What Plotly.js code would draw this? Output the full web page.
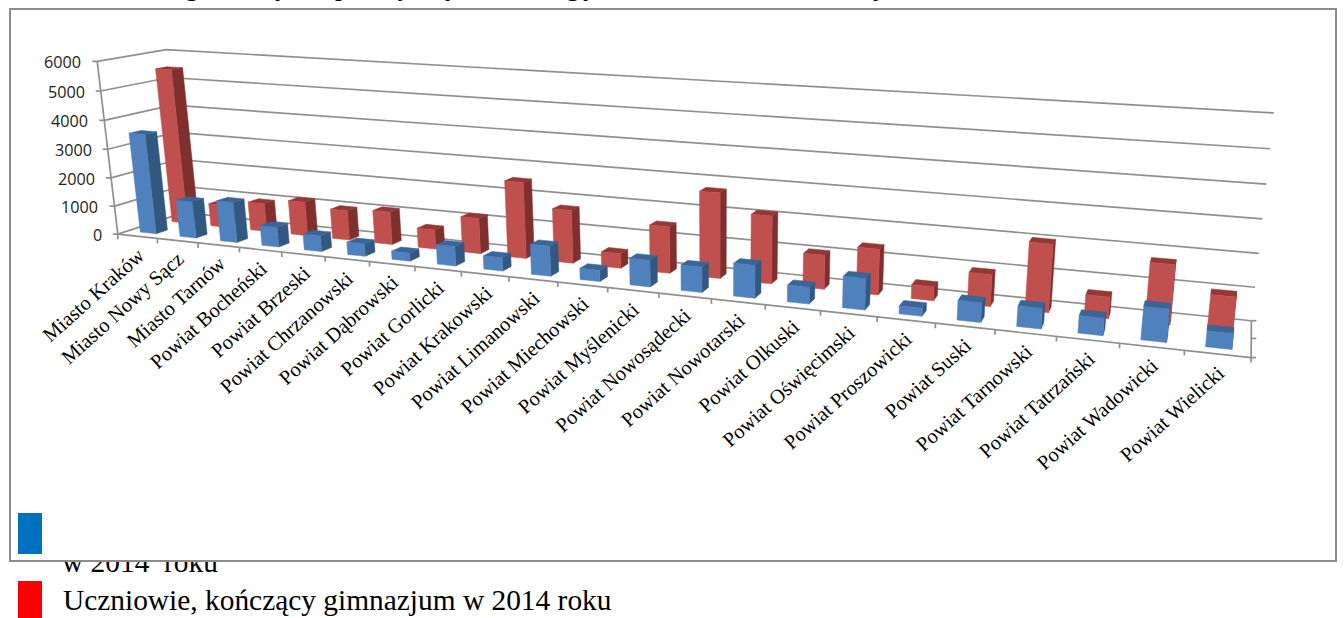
<!DOCTYPE html>
<html><head><meta charset="utf-8">
<script src="https://cdn.plot.ly/plotly-3.0.0.min.js"></script>
<style>html,body{margin:0;padding:0;background:#fff;overflow:hidden}#c{width:1344px;height:618px}</style>
</head><body><div id="c"></div>
<script>
const categories=["Miasto Kraków","Miasto Nowy Sącz","Miasto Tarnów","Powiat Bocheński","Powiat Brzeski","Powiat Chrzanowski","Powiat Dąbrowski","Powiat Gorlicki","Powiat Krakowski","Powiat Limanowski","Powiat Miechowski","Powiat Myślenicki","Powiat Nowosądecki","Powiat Nowotarski","Powiat Olkuski","Powiat Oświęcimski","Powiat Proszowicki","Powiat Suski","Powiat Tarnowski","Powiat Tatrzański","Powiat Wadowicki","Powiat Wielicki"];
const blueValues=[3500,1280,1400,680,540,420,270,650,440,980,360,850,800,1020,520,960,240,590,610,510,960,450];
const redValues=[5500,800,1000,1190,1030,1130,660,1200,2550,1760,480,1520,2750,2160,1080,1430,430,980,2060,650,1780,1020];
const valueTicks=[0,1000,2000,3000,4000,5000,6000];
const legendRed="Uczniowie, kończący gimnazjum w 2014 roku";
const legendBlueTail="w 2014  roku";
const titleFragments=["g","y","p","j","y","g","y","y"];
const titleFragmentX=[192,282,342,402,452,573,590,880];

// camera calibration: [category position, depth, value] -> page pixel
const calibration=[
 [0,0,0,118,234],[22,0,0,1251,358],[22,.5,0,1252,338],[22,1,0,1251,320],[0,1,0,184,213.5],
 [0,1,6000,166,49],[0,0,6000,98,62],[0,0,5000,101,91],[0,0,4000,104,120],[0,0,3000,107,149],[0,0,2000,111,178],[0,0,1000,114,206],
 [22,1,1000,1255,287],[22,1,2000,1259,254],[22,1,3000,1262,219],[22,1,4000,1266,184],[22,1,5000,1270,149],[22,1,6000,1274,113],
 [5,0,0,326,256.8],[11,0,0,607,287.5],[16,0,0,877,317]];
function solve(A,b){const n=b.length;const M=A.map((r,i)=>r.concat([b[i]]));
 for(let i=0;i<n;i++){let p=i;for(let r=i+1;r<n;r++)if(Math.abs(M[r][i])>Math.abs(M[p][i]))p=r;[M[i],M[p]]=[M[p],M[i]];
  for(let r=i+1;r<n;r++){const f=M[r][i]/M[i][i];for(let c=i;c<=n;c++)M[r][c]-=f*M[i][c];}}
 const x=Array(n).fill(0);for(let i=n-1;i>=0;i--){let s=M[i][n];for(let c=i+1;c<n;c++)s-=M[i][c]*x[c];x[i]=s/M[i][i];}return x;}
const rows=[],rhs=[];
calibration.forEach(([t,d,h,X,Y])=>{const T=t/22,H=h/6000;
 rows.push([1,T,d,H,0,0,0,0,-X*T,-X*d,-X*H]);rhs.push(X);
 rows.push([0,0,0,0,1,T,d,H,-Y*T,-Y*d,-Y*H]);rhs.push(Y);});
const AtA=Array.from({length:11},(_,i)=>Array.from({length:11},(_,j)=>rows.reduce((s,r)=>s+r[i]*r[j],0)));
const Atb=Array.from({length:11},(_,i)=>rows.reduce((s,r,k)=>s+r[i]*rhs[k],0));
const P=solve(AtA,Atb);
function proj(t,d,h){const T=t/22,H=h/6000,w=1+P[8]*T+P[9]*d+P[10]*H;
 return [(P[0]+P[1]*T+P[2]*d+P[3]*H)/w,(P[4]+P[5]*T+P[6]*d+P[7]*H)/w];}

const BAR=0.40, CENTER=0.51, BLUE_D=[0.15,0.32], RED_D=[0.63,0.80];
function poly(pts,xs,ys){pts.forEach(p=>{const q=proj(...p);xs.push(q[0]);ys.push(q[1]);});const q=proj(...pts[0]);xs.push(q[0],null);ys.push(q[1],null);}
function barTraces(vals,D,cFront,cSide,cTop,name){
 const f=[[],[]],s=[[],[]],u=[[],[]];
 vals.forEach((v,i)=>{const t0=i+CENTER-BAR/2,t1=i+CENTER+BAR/2,[d0,d1]=D;
  poly([[t0,d0,0],[t1,d0,0],[t1,d0,v],[t0,d0,v]],f[0],f[1]);
  poly([[t1,d0,0],[t1,d1,0],[t1,d1,v],[t1,d0,v]],s[0],s[1]);
  poly([[t0,d0,v],[t1,d0,v],[t1,d1,v],[t0,d1,v]],u[0],u[1]);});
 const tr=(a,c)=>({x:a[0],y:a[1],mode:'lines',fill:'toself',fillcolor:c,line:{width:0.5,color:c},hoverinfo:'skip',name:name,showlegend:false});
 return [tr(s,cSide),tr(u,cTop),tr(f,cFront)];
}
const GRID='#8f8f8f';
const gx=[],gy=[],ax=[],ay=[];
function add(xs,ys,pts){pts.forEach(q=>{xs.push(q[0]);ys.push(q[1]);});xs.push(null);ys.push(null);}
valueTicks.forEach(v=>{add(gx,gy,[proj(0,0,v),proj(0,1,v),proj(22,1,v)]);
 const q=proj(0,0,v);add(ax,ay,[[q[0]-5,q[1]],q]);});
add(ax,ay,[proj(0,0,0),proj(0,0,6000)]);
add(ax,ay,[proj(0,0,0),proj(22,0,0)]);
add(ax,ay,[proj(22,0,0),proj(22,1,0)]);
for(let i=0;i<=22;i++){const q=proj(i,0,0);add(ax,ay,[q,[q[0],q[1]+5]]);}
[0,.5,1].forEach(d=>{const q=proj(22,d,0);add(ax,ay,[q,[q[0]+5,q[1]]]);});

const traces=[
 {x:gx,y:gy,mode:'lines',line:{color:GRID,width:1.7},hoverinfo:'skip',showlegend:false},
 {x:ax,y:ay,mode:'lines',line:{color:GRID,width:1.7},hoverinfo:'skip',showlegend:false},
 ...barTraces(redValues,RED_D,'#C0504D','#7F2F2D','#943735','Uczniowie kończący gimnazjum'),
 ...barTraces(blueValues,BLUE_D,'#4F81BD','#325880','#3A6596','Uczniowie'),
 {x:[62],y:[565],xaxis:'x2',yaxis:'y2',mode:'text',text:[legendBlueTail],textposition:'middle right',cliponaxis:true,
  textfont:{family:'Liberation Serif',size:29.4,color:'#000'},hoverinfo:'skip',showlegend:false}
];
const ann=[];
categories.forEach((c,i)=>{const q=proj(i+.5,0,0);
 ann.push({x:q[0]+12,y:q[1]+6,text:c,textangle:-42,xanchor:'right',yanchor:'top',showarrow:false,borderpad:0,
  font:{family:'Liberation Serif',size:20.5,color:'#000'}});});
valueTicks.forEach(v=>{const q=proj(0,0,v);
 ann.push({x:q[0]-15,y:q[1]+1,text:String(v),xanchor:'right',yanchor:'middle',showarrow:false,borderpad:0,
  font:{family:'Open Sans',size:16.2,color:'#222'}});});
ann.push({x:62,y:600,text:legendRed,xanchor:'left',yanchor:'middle',showarrow:false,borderpad:0,
 font:{family:'Liberation Serif',size:29.4,color:'#000'}});
titleFragments.forEach((s,i)=>ann.push({x:titleFragmentX[i],xref:'x',y:1+14/618,yref:'paper',text:s,xanchor:'center',yanchor:'middle',showarrow:false,borderpad:0,
 font:{family:'Liberation Serif',size:27,color:'#000'}}));

const axis={range:[0,1344],domain:[0,1],visible:false,fixedrange:true};
const layout={width:1344,height:618,margin:{l:0,r:0,t:0,b:0},paper_bgcolor:'#fff',plot_bgcolor:'rgba(0,0,0,0)',showlegend:false,
 xaxis:axis,yaxis:{range:[618,0],domain:[0,1],visible:false,fixedrange:true},
 xaxis2:{...axis,anchor:'y2'},yaxis2:{range:[618,562],domain:[0,56/618],visible:false,fixedrange:true,anchor:'x2'},
 annotations:ann,
 shapes:[
  {type:'rect',xref:'x',yref:'y',x0:10,x1:1336,y0:9,y1:561,line:{color:'#8c8c8c',width:2},fillcolor:'rgba(0,0,0,0)',layer:'below'},
  {type:'rect',xref:'x',yref:'y',x0:18,x1:42,y0:513,y1:554,line:{width:0},fillcolor:'#0070C0',layer:'above'},
  {type:'rect',xref:'x',yref:'y',x0:18,x1:42,y0:581,y1:618,line:{width:0},fillcolor:'#FF0000',layer:'above'}
 ]};
Plotly.newPlot('c',traces,layout,{displayModeBar:false,staticPlot:true});
</script></body></html>
